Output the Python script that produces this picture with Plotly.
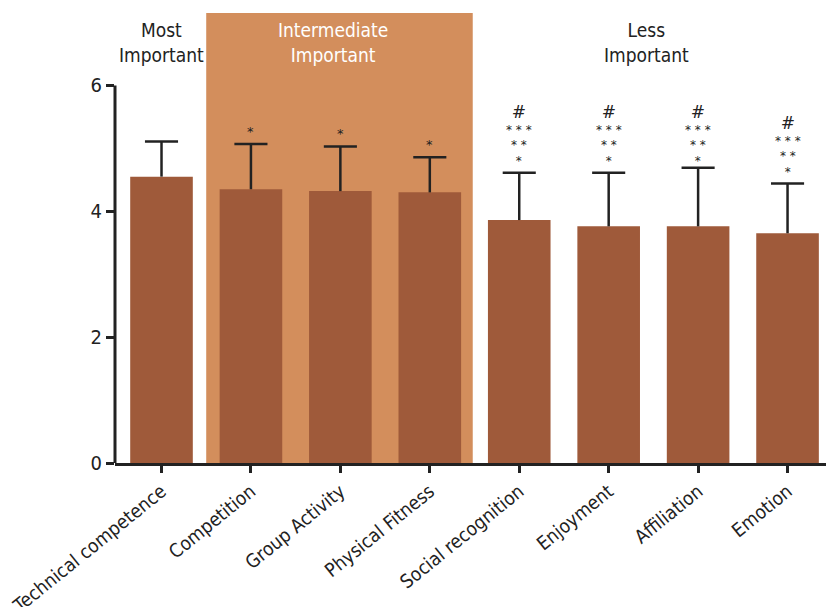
import plotly.graph_objects as go

categories = ["Technical competence", "Competition", "Group Activity", "Physical Fitness",
              "Social recognition", "Enjoyment", "Affiliation", "Emotion"]
means = [4.55, 4.35, 4.32, 4.30, 3.86, 3.76, 3.76, 3.65]
upper = [5.11, 5.07, 5.03, 4.86, 4.61, 4.61, 4.69, 4.44]
marks = ["", "*", "*", "*", "#<br>* * *<br>* *<br>*", "#<br>* * *<br>* *<br>*",
         "#<br>* * *<br>* *<br>*", "#<br>* * *<br>* *<br>*"]
group_labels = ["Most<br>Important", "Intermediate<br>Important", "Less<br>Important"]

BAR = "#9f5a3a"
SHADE = "#d38e5c"
INK = "#222222"
FONT = "DejaVu Sans Condensed, Liberation Sans Narrow, sans-serif"

xs = list(range(len(categories)))

fig = go.Figure()
fig.add_trace(go.Bar(x=xs, y=means, marker=dict(color=BAR, line=dict(width=0)),
                     width=0.70, showlegend=False, hoverinfo="skip"))

# one-sided error bars (stem + cap)
hw = 0.185
ex, ey = [], []
for i, (m, u) in enumerate(zip(means, upper)):
    ex += [i, i, None, i - hw, i + hw, None]
    ey += [m, u, None, u, u, None]
fig.add_trace(go.Scatter(x=ex, y=ey, mode="lines", line=dict(color=INK, width=2.5),
                         showlegend=False, hoverinfo="skip"))

shapes = [
    dict(type="rect", xref="x", yref="y", x0=0.5, x1=3.48, y0=0, y1=7.15,
         fillcolor=SHADE, line=dict(width=0), layer="below"),
    dict(type="line", xref="paper", yref="y", x0=0, x1=0, y0=0, y1=6,
         line=dict(color=INK, width=3)),
]

annotations = []
top_less = max(upper[4:7])
for i, t in enumerate(marks):
    if not t:
        continue
    if i >= 4:
        base = upper[7] if i == 7 else top_less
        annotations.append(dict(x=i, y=base, xref="x", yref="y",
                                text=t.replace("#", "<span style='font-size:17px'><i>#</i></span>"),
                                showarrow=False, yanchor="bottom", yshift=3 if i == 7 else -2,
                                align="center",
                                font=dict(size=12, color=INK, family="DejaVu Sans")))
    else:
        annotations.append(dict(x=i, y=upper[i], xref="x", yref="y", text=t, showarrow=False,
                                yanchor="bottom", yshift=3,
                                font=dict(size=13, color=INK, family="DejaVu Sans")))

# group headings
gx = [0.0, 1.92, 5.42]
gcol = [INK, "white", INK]
for txt, x, c in zip(group_labels, gx, gcol):
    annotations.append(dict(x=x, y=6.68, xref="x", yref="y", text=txt, showarrow=False,
                            font=dict(size=19, color=c, family=FONT), yanchor="middle"))

fig.update_layout(
    width=826, height=607,
    margin=dict(l=115, r=0, t=13, b=144, autoexpand=False),
    paper_bgcolor="white", plot_bgcolor="white",
    shapes=shapes, annotations=annotations,
    bargap=0.3,
    xaxis=dict(range=[-0.52, 7.43], tickmode="array", tickvals=xs, ticktext=categories,
               tickangle=-39, ticks="outside", ticklen=7, tickwidth=2.5, tickcolor=INK,
               showline=True, linecolor=INK, linewidth=3, showgrid=False, zeroline=False,
               automargin=False, tickfont=dict(size=19, color=INK, family=FONT)),
    yaxis=dict(range=[0, 7.15], tickmode="array", tickvals=[0, 2, 4, 6],
               ticks="outside", ticklen=8, tickwidth=2.5, tickcolor=INK,
               showline=False, showgrid=False, zeroline=False, automargin=False,
               tickfont=dict(size=20, color=INK, family=FONT)),
)

fig.write_html("out.html", config={"displayModeBar": False},
               post_script="document.body.style.margin='0';document.body.style.padding='0';")
